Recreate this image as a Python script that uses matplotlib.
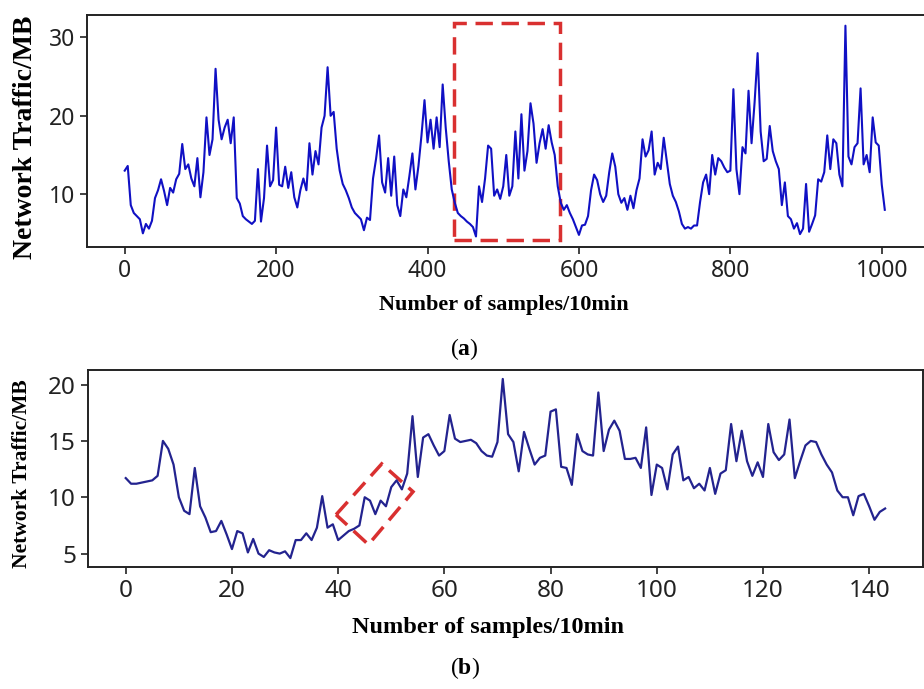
import numpy as np
import matplotlib.pyplot as plt
from matplotlib.patches import Rectangle, Polygon

plt.rcParams['mathtext.fontset'] = 'custom'
plt.rcParams['mathtext.rm'] = 'Liberation Serif'
plt.rcParams['mathtext.bf'] = 'Liberation Serif:bold'

# (a) one week of traffic, read every 4 samples
week_step = 4
week_traffic = [
    13.0, 13.6, 8.6, 7.6, 7.2, 6.8, 5.0, 6.2, 5.6, 6.6,
    9.5, 10.5, 11.9, 10.4, 8.6, 10.8, 10.2, 11.9, 12.6, 16.4,
    13.2, 13.8, 12.0, 11.0, 14.6, 9.6, 12.8, 19.8, 15.0, 17.0,
    26.0, 19.5, 17.0, 18.5, 19.5, 16.5, 19.8, 9.5, 8.8, 7.2,
    6.8, 6.5, 6.2, 6.6, 13.2, 6.5, 9.5, 16.2, 11.0, 11.8,
    18.5, 11.2, 11.0, 13.5, 10.8, 12.8, 9.6, 8.3, 10.5, 12.0,
    10.5, 16.5, 12.5, 15.5, 13.8, 18.5, 20.0, 26.2, 20.0, 20.5,
    15.8, 13.0, 11.3, 10.5, 9.5, 8.3, 7.6, 7.2, 6.8, 5.4,
    7.0, 6.7, 12.0, 14.5, 17.5, 11.5, 10.2, 14.6, 9.8, 14.8,
    8.6, 7.2, 10.6, 9.6, 12.3, 15.2, 10.6, 13.6, 17.5, 22.0,
    16.6, 19.5, 15.8, 19.8, 16.0, 24.0, 18.5, 14.2, 10.6, 8.9,
    7.6, 7.2, 6.9, 6.5, 6.2, 5.8, 4.6, 11.0, 9.0, 12.0,
    16.2, 15.8, 9.8, 10.6, 9.4, 11.0, 15.0, 9.8, 11.0, 18.0,
    12.0, 20.2, 13.0, 15.5, 21.6, 19.0, 14.0, 16.5, 18.3, 15.8,
    18.8, 16.6, 15.0, 11.0, 8.9, 8.0, 8.6, 7.6, 6.8, 5.8,
    4.8, 6.0, 6.1, 7.2, 10.5, 12.5, 11.8, 10.0, 9.0, 9.8,
    12.8, 15.2, 13.5, 10.0, 8.9, 9.5, 8.0, 9.8, 8.2, 10.5,
    12.0, 17.0, 14.8, 15.6, 18.0, 12.5, 14.0, 13.2, 17.2, 14.2,
    11.3, 9.8, 9.0, 7.8, 6.2, 5.6, 5.8, 5.6, 6.0, 6.0,
    9.0, 11.5, 12.5, 10.0, 15.0, 12.5, 14.6, 14.2, 13.4, 12.8,
    13.0, 23.4, 13.2, 10.0, 16.0, 15.2, 23.2, 16.5, 21.7, 28.0,
    18.0, 14.2, 14.5, 18.7, 15.5, 14.2, 13.2, 8.6, 11.5, 7.2,
    6.8, 5.6, 6.3, 4.9, 5.6, 11.3, 5.2, 6.2, 7.3, 11.9,
    11.6, 12.8, 17.5, 13.2, 17.0, 16.5, 12.5, 11.0, 31.5, 14.8,
    13.8, 16.0, 16.5, 23.5, 13.8, 15.0, 12.8, 19.8, 16.6, 16.2,
    11.2, 8.0,
]

# (b) one day, every sample
day_traffic = [
    11.7, 11.2, 11.2, 11.3, 11.4, 11.5, 11.9, 15.0, 14.3, 12.9,
    10.0, 8.8, 8.5, 12.6, 9.2, 8.2, 6.9, 7.0, 7.9, 6.7,
    5.4, 7.0, 6.8, 5.1, 6.3, 5.0, 4.7, 5.3, 5.1, 5.0,
    5.2, 4.6, 6.2, 6.2, 6.8, 6.2, 7.3, 10.1, 7.3, 7.6,
    6.2, 6.6, 7.0, 7.2, 7.5, 10.0, 9.7, 8.5, 9.7, 9.2,
    10.9, 11.5, 10.7, 12.1, 17.2, 11.8, 15.3, 15.6, 14.6, 13.7,
    14.1, 17.3, 15.2, 14.9, 15.0, 15.1, 14.8, 14.1, 13.7, 13.6,
    14.9, 20.5, 15.6, 14.9, 12.3, 15.8, 14.3, 12.9, 13.5, 13.7,
    17.6, 17.8, 12.7, 12.6, 11.1, 15.6, 14.1, 13.8, 13.7, 19.3,
    14.1, 16.0, 16.8, 15.9, 13.4, 13.4, 13.5, 12.6, 16.2, 10.2,
    12.9, 12.6, 10.7, 13.8, 14.5, 11.5, 11.8, 10.8, 11.2, 10.6,
    12.6, 10.3, 12.1, 12.4, 16.5, 13.2, 15.9, 13.2, 11.9, 13.1,
    11.8, 16.5, 14.0, 13.3, 13.8, 16.9, 11.7, 13.2, 14.6, 15.0,
    14.9, 13.8, 12.9, 12.2, 10.6, 10.0, 10.0, 8.4, 10.1, 10.3,
    9.2, 8.0, 8.7, 9.0,
]

# highlighted regions
box_a = (435, 575, 4.2, 31.8)
box_b = [(39.6, 8.45), (48.2, 12.96), (54.1, 10.49), (45.7, 5.80)]

red = '#d93030'
label_font = dict(family='Liberation Serif', weight='bold')

fig = plt.figure(figsize=(9.24, 6.89), dpi=100)
ax1 = fig.add_axes([0.094, 0.6415, 0.907, 0.3365])
ax2 = fig.add_axes([0.095, 0.177, 0.904, 0.286])

x_week = np.arange(len(week_traffic)) * week_step
ax1.plot(x_week, week_traffic, color='#1010c4', lw=1.5)
ax1.set_xlim(-50, 1057)
ax1.set_xticks([0, 200, 400, 600, 800, 1000])
ax1.set_yticks([10, 20, 30])
ax1.add_patch(Rectangle((box_a[0], box_a[2]), box_a[1] - box_a[0], box_a[3] - box_a[2],
                        fill=False, ec=red, lw=2.5, ls=(0, (5, 2.5))))

x_day = np.arange(len(day_traffic))
ax2.plot(x_day, day_traffic, color='#23238f', lw=1.6)
ax2.set_xlim(-7.15, 150.15)
ax2.set_xticks([0, 20, 40, 60, 80, 100, 120, 140])
ax2.set_yticks([5, 10, 15, 20])
ax2.add_patch(Polygon(box_b, closed=True, fill=False, ec=red, lw=2.5, ls=(0, (5, 2.5))))

for ax, fs in [(ax1, 16.5), (ax2, 17.5)]:
    for s in ax.spines.values():
        s.set_linewidth(1.4)
        s.set_color('#222222')
    ax.tick_params(labelsize=fs, length=5, width=1.2, colors='#222222')
    for lab in ax.get_xticklabels() + ax.get_yticklabels():
        lab.set_family('Noto Sans')

fig.text(0.545, 0.557, 'Number of samples/10min', ha='center', va='center', fontsize=16, **label_font)
fig.text(0.028, 0.800, 'Network Traffic/MB', ha='center', va='center', rotation=90, fontsize=20, **label_font)
fig.text(0.528, 0.089, 'Number of samples/10min', ha='center', va='center', fontsize=17.5, **label_font)
fig.text(0.024, 0.313, 'Network Traffic/MB', ha='center', va='center', rotation=90, fontsize=15.5, **label_font)

fig.text(0.503, 0.493, r'($\mathbf{a}$)', ha='center', va='center', fontsize=17, family='Liberation Serif')
fig.text(0.503, 0.030, r'($\mathbf{b}$)', ha='center', va='center', fontsize=17, family='Liberation Serif')

fig.savefig('out.png', dpi=100)
